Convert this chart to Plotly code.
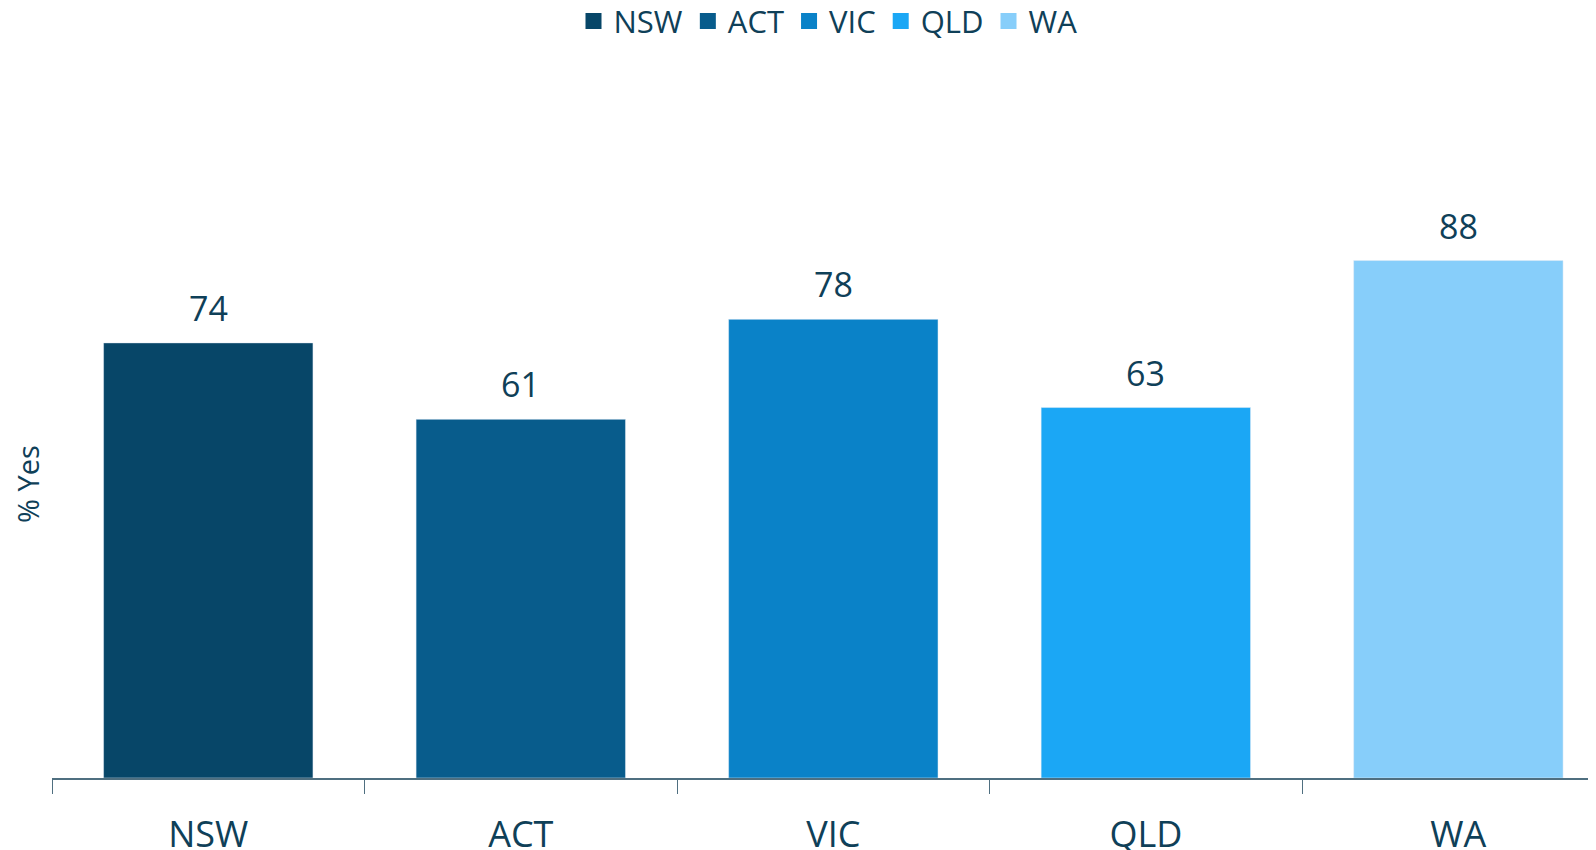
import plotly.graph_objects as go

states = ["NSW", "ACT", "VIC", "QLD", "WA"]
values = [74, 61, 78, 63, 88]
colors = ["#074668", "#085C8C", "#0A82C8", "#1BA7F5", "#87CEFA"]

TEXT = "#0F4058"
FONT = "Open Sans"

fig = go.Figure()
for s, v, c in zip(states, values, colors):
    fig.add_trace(go.Bar(x=[s], y=[v], name=s, marker_color=c, width=0.67,
                         hoverinfo="x+y", showlegend=False))
    fig.add_annotation(x=s, y=v, text=str(v), showarrow=False, yanchor="bottom",
                       yshift=10, font=dict(family=FONT, size=34, color=TEXT))
# legend entries with larger square swatches
for s, c in zip(states, colors):
    fig.add_trace(go.Scatter(x=[None], y=[None], mode="markers", name=s,
                             marker=dict(symbol="square", size=20, color=c)))

fig.update_layout(
    width=1596, height=850,
    margin=dict(l=44, r=0, t=182, b=80, autoexpand=False),
    barmode="overlay",
    plot_bgcolor="white", paper_bgcolor="white",
    font=dict(family=FONT, color=TEXT),
    legend=dict(orientation="h", x=0.5, xanchor="center", y=1.2867, yanchor="middle",
                yref="paper", font=dict(size=31, color=TEXT),
                itemwidth=30, traceorder="normal", itemsizing="trace",
                tracegroupgap=0),
    xaxis=dict(range=[-0.5, 4.466], tickson="boundaries", ticks="outside",
               ticklen=14, tickcolor="#4F6F80", showline=True, linecolor="#4F6F80",
               linewidth=1.5, tickfont=dict(size=36, color=TEXT), ticklabelstandoff=24,
               showgrid=False, automargin=False),
    yaxis=dict(range=[0, 100], showticklabels=False, showgrid=False, zeroline=False,
               showline=False, ticks="", automargin=False,
               title=dict(text="% Yes", font=dict(size=29, color=TEXT), standoff=7)),
)
fig.write_html("out.html")
